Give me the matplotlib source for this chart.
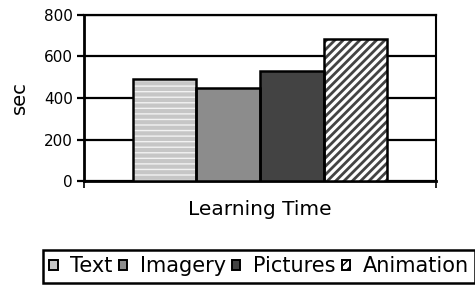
import matplotlib
matplotlib.use('Agg')
import matplotlib.pyplot as plt
from matplotlib.patches import Patch

# data
categories = ['Text', 'Imagery', 'Pictures', 'Animation']
learning_time = [490, 450, 530, 685]
face_colors = ['#c6c6c6', '#8c8c8c', '#434343', 'white']
hatch_colors = ['#f2f2f2', 'none', 'none', '#444444']
hatches = ['---', '', '', '////']
hatch_widths = [1.0, 1.0, 1.0, 2.0]
yticks = [0, 200, 400, 600, 800]

plt.rcParams['font.family'] = 'DejaVu Sans'

fig = plt.figure(figsize=(4.75, 2.87), dpi=100)
ax = fig.add_axes([84 / 475, 1 - 181 / 287, 352 / 475, 166 / 287])

x = list(range(len(categories)))
# fill + hatch (hatch colour follows edgecolor), then black outline on top
for i in x:
    with plt.rc_context({'hatch.linewidth': hatch_widths[i]}):
        bars = ax.bar(i, learning_time[i], width=1.0, color=face_colors[i],
                      edgecolor=hatch_colors[i], hatch=hatches[i], linewidth=0, zorder=3)
    for b in bars:
        if hasattr(b, 'set_hatch_linewidth'):
            b.set_hatch_linewidth(hatch_widths[i])
for i in x:
    ax.bar(i, learning_time[i], width=1.0, fill=False,
           edgecolor='black', linewidth=1.8, zorder=4)

ax.set_xlim(-1.27, 4.27)
ax.set_ylim(0, 800)
ax.set_yticks(yticks)
ax.yaxis.grid(True, color='black', linewidth=1.6, zorder=1)
ax.set_axisbelow(True)
ax.set_xticks([-1.27, 4.27])
ax.set_xticklabels([])
ax.tick_params(axis='x', length=5, width=1.2, direction='out')
ax.tick_params(axis='y', length=5, width=1.6, labelsize=11, pad=3)
for s in ['left', 'bottom']:
    ax.spines[s].set_linewidth(2)
ax.spines['right'].set_linewidth(1.5)
ax.spines['top'].set_linewidth(1.6)

ax.set_ylabel('sec', fontsize=14, labelpad=11)
ax.set_xlabel('Learning Time', fontsize=14.5, labelpad=5)

# legend proxies with the same fills
proxies = []
for i in x:
    p = Patch(facecolor=face_colors[i], edgecolor='black', linewidth=1.4,
              hatch='////' if i == 3 else '')
    proxies.append(p)
leg = fig.legend(proxies, categories, loc='upper left',
                 bbox_to_anchor=(43 / 475, 1 - 250 / 287), ncol=4,
                 fancybox=False, frameon=True, framealpha=1, fontsize=15,
                 handlelength=0.4, handleheight=0.4, handletextpad=0.6,
                 columnspacing=0.3, borderaxespad=0, borderpad=0.3)
leg.get_frame().set_edgecolor('black')
leg.get_frame().set_linewidth(1.8)

fig.savefig('out.png', dpi=100)
